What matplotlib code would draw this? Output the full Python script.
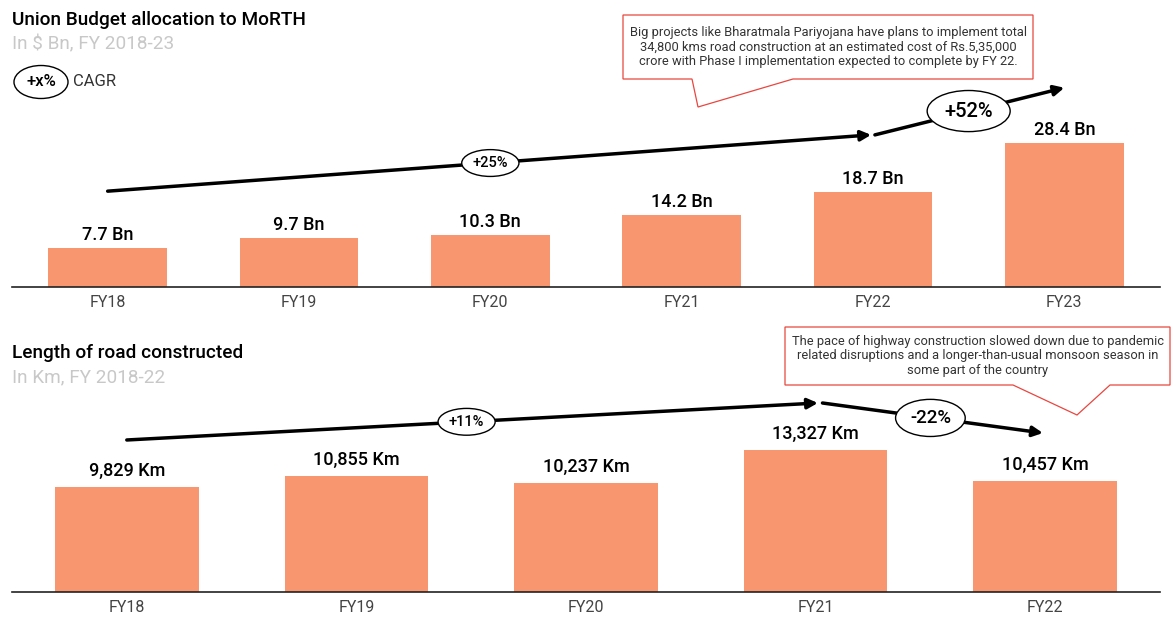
"""Union budget allocation to MoRTH and length of road constructed."""
import matplotlib
matplotlib.use('Agg')
import matplotlib.pyplot as plt
from matplotlib.patches import Polygon

plt.rcParams['font.family'] = ['Roboto', 'DejaVu Sans']

# data
budget_years = ['FY18', 'FY19', 'FY20', 'FY21', 'FY22', 'FY23']
budget_bn = [7.7, 9.7, 10.3, 14.2, 18.7, 28.4]
road_years = ['FY18', 'FY19', 'FY20', 'FY21', 'FY22']
road_km = [9829, 10855, 10237, 13327, 10457]

BAR = '#F8966F'
W, H = 1173, 619

fig = plt.figure(figsize=(W / 100, H / 100), dpi=100)


def fx(px):
    return px / W


def fy(py):
    return 1 - py / H


def ax_at(left, top, right, bottom):
    return fig.add_axes([fx(left), fy(bottom), fx(right - left), (bottom - top) / H])


def style(ax, labels):
    for s in ['top', 'right', 'left']:
        ax.spines[s].set_visible(False)
    ax.spines['bottom'].set_color('#222222')
    ax.spines['bottom'].set_linewidth(1.2)
    ax.set_yticks([])
    ax.set_xticks(range(len(labels)))
    ax.set_xticklabels(labels, fontsize=11.5, color='#444444')
    ax.tick_params(axis='x', length=0, pad=6)
    ax.patch.set_alpha(0)


def trend(ax, p0, p1):
    ax.annotate('', xy=p1, xytext=p0,
                arrowprops=dict(arrowstyle='-|>', lw=2.5, color='black',
                                mutation_scale=15, shrinkA=0, shrinkB=0))


def cagr(ax, x, y, txt, size, pad):
    ax.text(x, y, txt, ha='center', va='center', fontsize=size,
            fontweight='medium', zorder=5,
            bbox=dict(boxstyle='ellipse,pad=%s' % pad, fc='white',
                      ec='black', lw=1))


def callout(box, tail, lines):
    left, top, right, bottom = box
    tl, tip, tr = tail
    pts = [(left, top), (right, top), (right, bottom), (tr, bottom),
           tip, (tl, bottom), (left, bottom)]
    poly = Polygon([(fx(x), fy(y)) for x, y in pts], closed=True,
                   transform=fig.transFigure, fc='white', ec='#E8463F',
                   lw=0.9, zorder=1)
    fig.patches.append(poly)
    fig.text(fx((left + right) / 2), fy((top + bottom) / 2), lines,
             ha='center', va='center', fontsize=9.3, color='#333333',
             linespacing=1.15)


# top chart
ax1 = ax_at(12, 0, 1160, 287)
ax1.bar(range(len(budget_bn)), budget_bn, width=0.62, color=BAR)
ax1.set_xlim(-0.5, 5.5)
ax1.set_ylim(0, 28.4 * 287 / 144)
style(ax1, budget_years)
for i, v in enumerate(budget_bn):
    ax1.annotate('%.1f Bn' % v, (i, v), xytext=(0, 3),
                 textcoords='offset points', ha='center', va='bottom',
                 fontsize=13, fontweight='medium')
trend(ax1, (0, 18.9), (3.99, 30.0))
trend(ax1, (4.01, 30.0), (5.0, 39.3))
cagr(ax1, 2.0, 24.45, '+25%', 10.5, 0.17)
cagr(ax1, 4.5, 34.7, '+52%', 14.5, 0.25)

# bottom chart
ax2 = ax_at(12, 300, 1160, 592)
ax2.bar(range(len(road_km)), road_km, width=0.625, color=BAR)
ax2.set_xlim(-0.5, 4.5)
ax2.set_ylim(0, 292 / 0.01066)
style(ax2, road_years)
for i, v in enumerate(road_km):
    ax2.annotate('{:,} Km'.format(v), (i, v), xytext=(0, 5),
                 textcoords='offset points', ha='center', va='bottom',
                 fontsize=13, fontweight='medium')
trend(ax2, (0, 14260), (3.01, 17730))
trend(ax2, (3.03, 17730), (3.99, 14915))
cagr(ax2, 1.48, 15966, '+11%', 10.5, 0.17)
cagr(ax2, 3.5, 16330, '-22%', 13.5, 0.22)

# titles
fig.text(fx(12), fy(20), 'Union Budget allocation to MoRTH', fontsize=13.7,
         fontweight='medium', va='center')
fig.text(fx(12), fy(44), 'In $ Bn, FY 2018-23', fontsize=13.7,
         color='#C8C8C8', va='center')
fig.text(fx(41), fy(82), '+x%', fontsize=12, fontweight='medium',
         ha='center', va='center',
         bbox=dict(boxstyle='ellipse,pad=0.25', fc='white', ec='black', lw=1))
fig.text(fx(73), fy(82), 'CAGR', fontsize=12, color='#333333', va='center')
fig.text(fx(12), fy(353), 'Length of road constructed', fontsize=13.7,
         fontweight='medium', va='center')
fig.text(fx(12), fy(377), 'In Km, FY 2018-22', fontsize=13.7,
         color='#C8C8C8', va='center')

callout((623, 15, 1033, 79), (692, (698, 107), 793),
        'Big projects like Bharatmala Pariyojana have plans to implement total\n'
        '34,800 kms road construction at an estimated cost of Rs.5,35,000\n'
        'crore with Phase I implementation expected to complete by FY 22.')
callout((785, 327, 1170, 385), (1013, (1077, 415), 1110),
        'The pace of highway construction slowed down due to pandemic\n'
        'related disruptions and a longer-than-usual monsoon season in\n'
        'some part of the country')

fig.savefig('out.png', dpi=100)
